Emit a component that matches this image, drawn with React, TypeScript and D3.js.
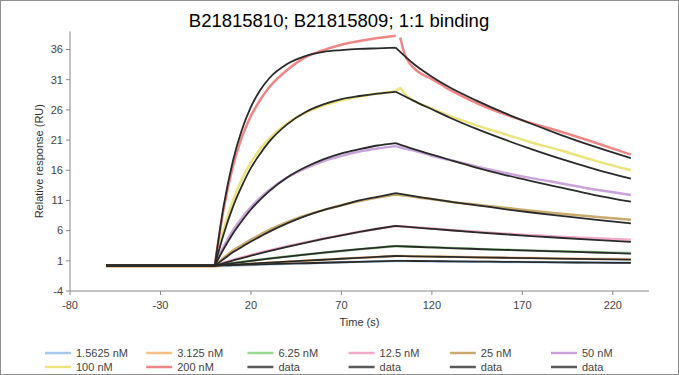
import React from "react";
import * as d3 from "d3";

// ---------- data ----------
const seriesLabels = ["1.5625 nM", "3.125 nM", "6.25 nM", "12.5 nM", "25 nM", "50 nM", "100 nM", "200 nM"];
const seriesColors = ["#a7c8ea", "#f8bf80", "#99d893", "#f3a9c9", "#c8aa6c", "#c9a3da", "#ebe37c", "#ef8686"];
const legendLabels = [...seriesLabels, "data", "data", "data", "data"];
const legendColors = [...seriesColors, "#5a5a5a", "#5a5a5a", "#5a5a5a", "#5a5a5a"];

const xTicks = [-80, -30, 20, 70, 120, 170, 220];
const yTicks = [-4, 1, 6, 11, 16, 21, 26, 31, 36];

const baseTimes = [-60, 0];
const assocTimes = [0, 5, 10, 15, 20, 25, 30, 40, 50, 60, 70, 80, 90, 100];
const dataDissTimes = [100, 102.5, 105, 108, 112, 120, 130, 145, 160, 175, 190, 210, 230];
const fitDissTimes = [100, 110, 120, 130, 145, 160, 175, 190, 210, 230];

// measured sensorgrams (coloured)
const dataBase = [0.12, 0.05, 0.2, 0.2, 0.2, 0.2, 0.2, 0.2];
const dataAssoc = [
  [0.12, 0.15, 0.22, 0.27, 0.32, 0.37, 0.42, 0.5, 0.59, 0.67, 0.75, 0.83, 0.91, 0.98],
  [0.05, 0.28, 0.37, 0.45, 0.53, 0.61, 0.69, 0.85, 1.01, 1.17, 1.33, 1.49, 1.65, 1.8],
  [0.2, 0.45, 0.65, 0.85, 1.03, 1.2, 1.38, 1.72, 2.04, 2.35, 2.64, 2.92, 3.18, 3.42],
  [0.2, 0.7, 1.15, 1.55, 1.95, 2.35, 2.7, 3.4, 4.05, 4.65, 5.25, 5.8, 6.3, 6.75],
  [0.2, 1.5, 2.7, 3.6, 4.5, 5.3, 6.1, 7.4, 8.5, 9.4, 10.2, 10.9, 11.5, 12.0],
  [0.2, 3.4, 6.0, 8.1, 9.9, 11.4, 12.7, 14.8, 16.3, 17.5, 18.4, 19.1, 19.6, 20.0],
  [0.2, 6.3, 10.9, 14.5, 17.3, 19.5, 21.2, 23.8, 25.5, 26.7, 27.6, 28.2, 28.7, 29.1],
  [0.2, 9.7, 16.6, 21.5, 25.0, 27.6, 29.7, 32.6, 34.7, 35.9, 36.8, 37.4, 37.9, 38.3],
];
const dataDiss = [
  [0.98, 0.97, 0.97, 0.96, 0.95, 0.93, 0.9, 0.86, 0.82, 0.79, 0.76, 0.72, 0.7],
  [1.8, 1.79, 1.78, 1.77, 1.75, 1.71, 1.66, 1.59, 1.52, 1.46, 1.4, 1.32, 1.25],
  [3.42, 3.4, 3.38, 3.35, 3.32, 3.24, 3.11, 2.97, 2.84, 2.71, 2.59, 2.44, 2.3],
  [6.75, 6.7, 6.66, 6.6, 6.5, 6.35, 6.1, 5.8, 5.5, 5.25, 5.0, 4.75, 4.5],
  [12.0, 11.9, 11.8, 11.7, 11.5, 11.2, 10.8, 10.3, 9.8, 9.3, 8.85, 8.3, 7.8],
  [20.0, 19.8, 19.6, 19.4, 19.1, 18.4, 17.7, 16.6, 15.6, 14.7, 13.9, 12.8, 11.9],
  [29.1, 29.6, 28.6, 27.9, 27.2, 26.2, 25.0, 23.4, 22.0, 20.6, 19.4, 17.6, 16.0],
  [null, 38.0, 35.2, 33.6, 32.4, 31.1, 29.3, 27.1, 25.3, 23.8, 22.5, 20.6, 18.6],
];

// 1:1 binding fits (black)
const fitBase = [0.2, 0.2, 0.2, 0.2, 0.2, 0.2, 0.2, 0.2];
const fitAssoc = [
  [0.2, 0.24, 0.28, 0.32, 0.36, 0.4, 0.44, 0.52, 0.6, 0.68, 0.76, 0.84, 0.92, 1.0],
  [0.2, 0.29, 0.37, 0.45, 0.54, 0.62, 0.7, 0.86, 1.02, 1.18, 1.34, 1.49, 1.65, 1.8],
  [0.2, 0.4, 0.6, 0.8, 0.99, 1.17, 1.35, 1.7, 2.03, 2.34, 2.64, 2.92, 3.19, 3.45],
  [0.2, 0.63, 1.05, 1.46, 1.85, 2.24, 2.61, 3.32, 3.99, 4.62, 5.22, 5.78, 6.31, 6.8],
  [0.2, 1.3, 2.4, 3.3, 4.2, 5.0, 5.8, 7.2, 8.4, 9.4, 10.2, 11.0, 11.6, 12.2],
  [0.2, 3.0, 5.5, 7.6, 9.5, 11.1, 12.5, 14.8, 16.5, 17.8, 18.8, 19.5, 20.1, 20.5],
  [0.2, 5.5, 9.9, 13.4, 16.4, 18.7, 20.7, 23.6, 25.6, 26.9, 27.8, 28.3, 28.7, 29.0],
  [0.2, 10.2, 17.5, 22.7, 26.5, 29.2, 31.2, 33.6, 34.9, 35.6, 35.9, 36.1, 36.2, 36.3],
];
const fitDiss = [
  [1.0, 0.97, 0.94, 0.91, 0.87, 0.83, 0.79, 0.75, 0.7, 0.65],
  [1.8, 1.75, 1.7, 1.65, 1.58, 1.51, 1.44, 1.37, 1.29, 1.2],
  [3.45, 3.33, 3.22, 3.11, 2.96, 2.82, 2.68, 2.55, 2.38, 2.2],
  [6.8, 6.55, 6.3, 6.06, 5.72, 5.4, 5.1, 4.82, 4.47, 4.15],
  [12.2, 11.7, 11.25, 10.8, 10.2, 9.57, 9.0, 8.47, 7.81, 7.2],
  [20.5, 19.5, 18.6, 17.7, 16.4, 15.25, 14.2, 13.2, 11.9, 10.8],
  [29.0, 27.5, 26.1, 24.7, 22.8, 21.1, 19.5, 18.0, 16.2, 14.6],
  [36.3, 33.6, 31.5, 29.7, 27.5, 25.5, 23.7, 22.0, 19.9, 18.0],
];

// ---------- layout ----------
const W = 679;
const H = 375;
const FONT = "'Liberation Sans', Arial, Helvetica, sans-serif";

const x = d3.scaleLinear().domain([-80, 240]).range([70, 649]);
const y = d3.scaleLinear().domain([-4, 39]).range([291, 31.4]);

type Pt = [number, number | null];

const smooth = d3
  .line<Pt>()
  .defined((d) => d[1] !== null)
  .x((d) => x(d[0]))
  .y((d) => y(d[1] as number))
  .curve(d3.curveMonotoneX);

const straight = d3
  .line<Pt>()
  .x((d) => x(d[0]))
  .y((d) => y(d[1] as number));

function zip(times: number[], vals: (number | null)[]): Pt[] {
  return times.map((t, i) => [t, vals[i]] as Pt);
}

function seriesPath(base: number, assoc: (number | null)[], dissTimes: number[], diss: (number | null)[]) {
  const b = straight(zip(baseTimes, [base, base])) || "";
  const a = smooth(zip(assocTimes, assoc)) || "";
  const dsub = smooth(zip(dissTimes, diss)) || "";
  return b + a + dsub;
}

export default function App() {
  const legendCols = 6;
  return (
    <svg
      width={W}
      height={H}
      style={{ position: "absolute", left: 0, top: 0, display: "block", background: "#fff" }}
      fontFamily={FONT}
    >
      <rect x={0.5} y={0.5} width={W - 1} height={H - 1} fill="#fff" stroke="#8f8f8f" strokeWidth={1} />

      <text x={339} y={27} textAnchor="middle" fontSize={18.5} fill="#000">
        B21815810; B21815809; 1:1 binding
      </text>

      {/* axes */}
      <line x1={70} x2={70} y1={y(39)} y2={y(-4)} stroke="#888" strokeWidth={1} />
      <line x1={70} x2={649} y1={y(-4)} y2={y(-4)} stroke="#888" strokeWidth={1} />
      {yTicks.map((v) => (
        <g key={"y" + v}>
          <line x1={66} x2={70} y1={y(v)} y2={y(v)} stroke="#888" />
          <text x={63} y={y(v)} dy="0.35em" textAnchor="end" fontSize={11} fill="#444">
            {v}
          </text>
        </g>
      ))}
      {xTicks.map((v) => (
        <g key={"x" + v}>
          <line x1={x(v)} x2={x(v)} y1={291} y2={295} stroke="#888" />
          <text x={x(v)} y={309} textAnchor="middle" fontSize={11} fill="#444">
            {v}
          </text>
        </g>
      ))}
      <text x={359.5} y={326} textAnchor="middle" fontSize={11} fill="#333">
        Time (s)
      </text>
      <text
        transform={`translate(43,${(y(39) + y(-4)) / 2}) rotate(-90)`}
        textAnchor="middle"
        fontSize={11}
        fill="#333"
      >
        Relative response (RU)
      </text>

      {/* measured curves */}
      {seriesLabels.map((lab, i) => (
        <path
          key={"d" + lab}
          d={seriesPath(dataBase[i], dataAssoc[i], dataDissTimes, dataDiss[i])}
          fill="none"
          stroke={seriesColors[i]}
          strokeWidth={2.5}
        />
      ))}
      {/* fits */}
      {seriesLabels.map((lab, i) => (
        <path
          key={"f" + lab}
          d={seriesPath(fitBase[i], fitAssoc[i], fitDissTimes, fitDiss[i])}
          fill="none"
          stroke="#2a2a2a"
          strokeWidth={1.8}
        />
      ))}

      {/* legend */}
      {legendLabels.map((lab, i) => {
        const col = i % legendCols;
        const row = Math.floor(i / legendCols);
        const lx = 45 + col * 101.2;
        const ly = 353 + row * 14;
        return (
          <g key={"l" + i}>
            <line x1={lx} x2={lx + 26} y1={ly} y2={ly} stroke={legendColors[i]} strokeWidth={2.5} />
            <text x={lx + 31} y={ly} dy="0.35em" fontSize={11} fill="#444">
              {lab}
            </text>
          </g>
        );
      })}
    </svg>
  );
}
